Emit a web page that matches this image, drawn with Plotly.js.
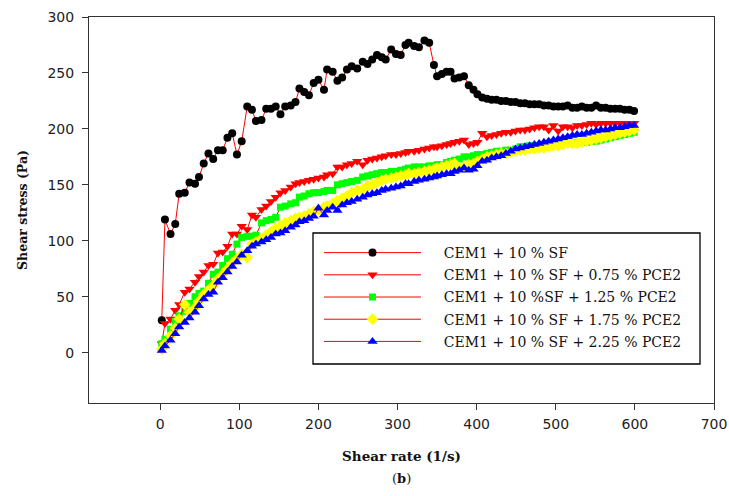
<!DOCTYPE html>
<html><head><meta charset="utf-8">
<script src="https://cdn.plot.ly/plotly-3.0.1.min.js"></script>
<style>html,body{margin:0;padding:0;background:#fff}#chart{width:729px;height:496px}</style>
</head><body><div id="chart"></div>
<script>
const shearRate = [2,6,13,19,24,31,37,44,49,55,61,67,73,79,85,91,97,103,110,116,121,128,134,140,146,152,158,165,171,176,182,188,194,200,207,211,218,224,230,236,242,249,256,262,268,274,280,285,292,298,304,310,314,321,327,334,340,346,350,356,362,367,372,378,384,390,396,401,407,413,419,425,431,437,443,449,455,461,467,473,479,485,491,497,503,509,515,521,527,533,539,545,551,557,563,569,575,581,587,593,599];
const sfOnly = [29,119,106,115,142,143,152,151,157,169,178,173,181,181,192,196,177,189,220,217,207,208,218,218,220,213,220,221,224,236,233,230,241,244,235,253,251,243,246,253,256,254,260,258,262,266,264,262,271,267,266,275,277,274,273,279,277,257,247,249,251,251,245,246,247,239,235,231,228,227,226,226,225,225,224,224,223,223,222,222,222,221,221,220,220,220,221,219,219,220,219,219,221,219,219,218,218,218,217,217,216];
const pce075 = [8,26,30,38,43,54,57,63,68,72,78,79,89,90,95,106,106,113,110,123,121,128,131,135,139,143,145,148,151,152,153,154,155,156,157,159,160,166,166,168,169,171,168,172,173,174,175,176,177,177,178,179,180,180,181,182,183,184,184,185,186,187,188,189,190,186,187,188,196,193,194,195,196,197,197,198,199,199,200,201,202,202,199,203,198,202,202,201,203,203,204,205,204,205,205,205,205,205,205,205,205];
const pce125 = [8,12,21,28,33,37,44,50,53,55,62,70,72,78,84,88,97,103,104,104,105,116,118,119,121,130,131,133,134,139,140,142,143,143,144,145,145,150,151,152,153,154,157,158,159,160,161,161,162,162,163,164,165,166,166,166,167,167,168,168,170,171,172,173,175,175,176,177,177,178,179,180,180,181,181,182,184,184,185,185,185,186,186,186,187,187,187,187,188,188,188,189,189,190,191,192,193,194,195,196,197];
const pce175 = [3,8,15,22,30,43,36,40,46,52,56,60,66,70,75,80,84,88,85,97,99,102,105,108,111,113,116,118,120,121,122,124,126,128,130,131,133,136,138,140,143,145,146,149,150,152,154,155,156,157,158,159,160,160,161,162,163,164,165,166,167,168,169,165,166,168,169,171,173,175,176,177,178,178,179,180,181,181,182,182,183,183,184,185,185,186,187,187,187,188,189,190,191,192,193,194,195,196,197,198,199];
const pce225 = [2,6,11,17,23,27,31,36,42,48,52,54,63,67,72,77,81,87,91,95,97,99,101,103,106,107,109,112,114,117,118,120,122,129,123,127,130,127,132,134,135,137,139,141,142,143,145,146,147,148,149,151,151,153,154,155,156,157,158,159,160,160,162,163,165,163,164,167,171,172,174,175,176,178,180,182,183,184,185,186,187,188,189,190,191,192,193,194,195,195,196,197,198,199,199,200,201,201,202,203,203];
const seriesNames = ["CEM1 + 10 % SF","CEM1 + 10 % SF + 0.75 % PCE2","CEM1 + 10 %SF + 1.25 % PCE2","CEM1 + 10 % SF + 1.75 % PCE2","CEM1 + 10 % SF + 2.25 % PCE2"];
const xTicks = [0,100,200,300,400,500,600,700];
const yTicks = [0,50,100,150,200,250,300];

const seriesY = [sfOnly, pce075, pce125, pce175, pce225];
const colors = ["#000000","#ff0000","#00ff00","#ffff00","#0000ff"];
const symbols = ["circle","triangle-down","square","diamond","triangle-up"];
const sizes = [8,9,7,9,9];
const pad = '\u00a0\u00a0\u00a0\u00a0';

const traces = seriesY.map((ys,i)=>({
  x: shearRate, y: ys, name: pad + seriesNames[i], type:'scatter', mode:'lines+markers',
  legendgroup:'g'+i,
  line:{color:'#ff0000', width:1},
  marker:{symbol:symbols[i], color:colors[i], size:sizes[i], line:{width:0}}
}));

const layout = {
  width:729, height:496,
  margin:{l:89, r:15, t:17, b:93},
  paper_bgcolor:'#fff', plot_bgcolor:'#fff',
  showlegend:true,
  legend:{x:0.368, y:0.43, xanchor:'left', yanchor:'top', bgcolor:'rgba(0,0,0,0)',
    borderwidth:0, itemwidth:97, tracegroupgap:1, traceorder:'grouped',
    font:{family:'DejaVu Serif', size:14, color:'#111'}},
  shapes:[{type:'rect', xref:'paper', yref:'paper', x0:0.3584, x1:0.9776, y0:0.101, y1:0.4404,
    line:{color:'#000', width:1.3}, fillcolor:'#fff', layer:'above'}],
  xaxis:{range:[-90,700], tickvals:xTicks, ticks:'outside', ticklen:6, tickcolor:'#333',
    showline:true, linecolor:'#333', linewidth:1, mirror:true, showgrid:false, zeroline:false,
    ticklabelstandoff:2,
    tickfont:{family:'DejaVu Sans', size:14, color:'#222'},
    title:{text:'<b>Shear rate (1/s)</b>', standoff:20, font:{family:'DejaVu Serif', size:13.5, color:'#111'}}},
  yaxis:{range:[-45,300], tickvals:yTicks, ticks:'outside', ticklen:6, tickcolor:'#333',
    showline:true, linecolor:'#333', linewidth:1, mirror:true, showgrid:false, zeroline:false,
    ticklabelstandoff:5,
    tickfont:{family:'DejaVu Sans', size:14, color:'#222'},
    title:{text:'<b>Shear stress (Pa)</b>', standoff:17, font:{family:'DejaVu Serif', size:12.5, color:'#111'}}},
  annotations:[{xref:'paper', yref:'paper', x:0.5, y:-0.195, xanchor:'center', yanchor:'middle', showarrow:false,
    text:'(<b>b</b>)', font:{family:'DejaVu Serif', size:13, color:'#111'}}]
};
Plotly.newPlot('chart', traces, layout, {displayModeBar:false, staticPlot:true});
</script></body></html>
